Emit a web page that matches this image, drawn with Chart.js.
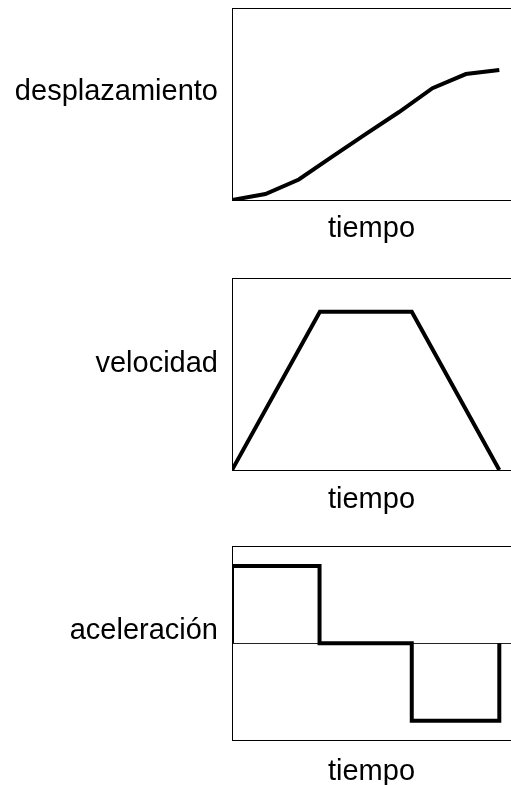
<!DOCTYPE html>
<html lang="es">
<head>
<meta charset="utf-8">
<title>desplazamiento, velocidad, aceleración</title>
<script src="https://cdn.jsdelivr.net/npm/chart.js@4.4.1/dist/chart.umd.min.js"></script>
<style>
  html, body { margin: 0; padding: 0; background: #fff; }
  body { width: 511px; height: 785px; position: relative; overflow: hidden; }
  canvas { position: absolute; left: 0; }
</style>
</head>
<body>
<canvas id="desp" width="511" height="262" style="top:0px"></canvas>
<canvas id="vel" width="511" height="268" style="top:262px"></canvas>
<canvas id="acel" width="511" height="255" style="top:530px"></canvas>
<script>
// Textos
const xTitle    = 'tiempo';
const labelDesp = 'desplazamiento';
const labelVel  = 'velocidad';
const labelAcel = 'aceleración';

// Desplazamiento (curva en S)
const despT = [0, 1, 2, 3, 4, 5, 6, 7, 8];
const despY = [0, 3.1, 10.7, 22.6, 34.4, 45.9, 58.3, 65.7, 67.8];

// Velocidad (trapecio)
const velT = [0, 2.63, 5.38, 8];
const velY = [0, 82.5, 82.5, 0];

// Aceleración (escalones)
const acelT = [0, 0, 2.62, 2.62, 5.38, 5.38, 8, 8];
const acelY = [0, 0.8, 0.8, 0, 0, -0.8, -0.8, 0];

// Posición vertical de la etiqueta de cada panel (en unidades del eje)
const labelPosDesp = 56.1;
const labelPosVel  = 55.2;
const labelPosAcel = 0.13;

const xMax = 8.35;

Chart.defaults.font.family = '"Liberation Sans", Arial, sans-serif';
Chart.defaults.color = '#000';

const labelFont = { size: 29, lineHeight: 1 };
const titleFont = { size: 29, lineHeight: 0.6 };

function toPoints(ts, ys) {
  return ts.map((t, i) => ({ x: t, y: ys[i] }));
}

// Un panel = una gráfica de línea enmarcada
function makePanel(id, cfg) {
  new Chart(document.getElementById(id), {
    type: 'line',
    data: {
      datasets: [{
        data: toPoints(cfg.t, cfg.y),
        borderColor: '#000',
        borderWidth: 4,
        borderJoinStyle: 'miter',
        pointRadius: 0,
        tension: 0,
        fill: false
      }]
    },
    options: {
      responsive: false,
      animation: false,
      devicePixelRatio: 1,
      layout: { padding: { top: cfg.padTop, bottom: cfg.padBottom, left: 0, right: 0 } },
      plugins: { legend: { display: false }, tooltip: { enabled: false } },
      scales: {
        x: {
          type: 'linear',
          min: 0,
          max: xMax,
          ticks: { display: false },
          grid: { display: false, drawTicks: false },
          border: { display: true, color: '#000', width: 1 },
          title: {
            display: true,
            text: xTitle,
            font: titleFont,
            color: '#000',
            padding: { top: cfg.titlePad, bottom: 0 }
          }
        },
        // eje superior solo para el borde del marco
        xTop: {
          type: 'linear',
          position: 'top',
          ticks: { display: false },
          grid: { display: false, drawTicks: false },
          border: { display: true, color: '#000', width: 1 },
          afterFit: s => { s.height = 0; }
        },
        y: {
          min: cfg.yMin,
          max: cfg.yMax,
          afterBuildTicks: s => {
            s.ticks = cfg.zeroLine
              ? [{ value: 0 }, { value: cfg.labelPos }]
              : [{ value: cfg.labelPos }];
          },
          afterFit: s => {
            s.width = 232;
            // la etiqueta está a media altura: sin reservar margen arriba/abajo
            s.paddingTop = 0;
            s.paddingBottom = 0;
          },
          ticks: {
            font: labelFont,
            color: '#000',
            padding: 14,
            callback: v => (v === cfg.labelPos ? cfg.label : '')
          },
          grid: {
            display: !!cfg.zeroLine,
            drawTicks: false,
            lineWidth: 1,
            color: ctx => (ctx.tick && ctx.tick.value === 0 ? '#222' : 'rgba(0,0,0,0)')
          },
          border: { display: true, color: '#000', width: 1 }
        }
      }
    }
  });
}

makePanel('desp', {
  t: despT, y: despY, label: labelDesp, labelPos: labelPosDesp,
  yMin: 0, yMax: 100, padTop: 8.3, padBottom: 24.3, titlePad: 20.3
});

makePanel('vel', {
  t: velT, y: velY, label: labelVel, labelPos: labelPosVel,
  yMin: 0, yMax: 100, padTop: 16.3, padBottom: 21.3, titlePad: 21.3
});

makePanel('acel', {
  t: acelT, y: acelY, label: labelAcel, labelPos: labelPosAcel,
  yMin: -1, yMax: 1, padTop: 16.7, padBottom: 4.3, titlePad: 23.3, zeroLine: true
});
</script>
</body>
</html>
